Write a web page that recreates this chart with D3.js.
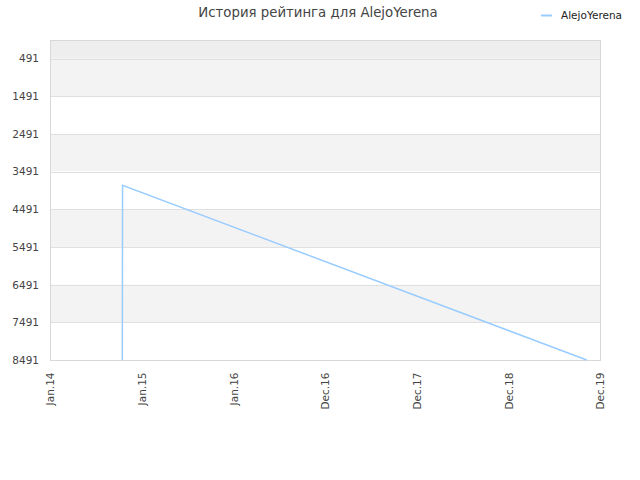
<!DOCTYPE html>
<html>
<head>
<meta charset="utf-8">
<script src="https://cdn.jsdelivr.net/npm/d3@7"></script>
<style>
  body { margin: 0; background: #fff; }
  text { font-family: "DejaVu Sans", sans-serif; }
</style>
</head>
<body>
<div id="chart"></div>
<script>
var title = "История рейтинга для AlejoYerena";
var seriesName = "AlejoYerena";

// rating history (date, rating)
var dates = ["2014-10-12", "2014-10-13", "2019-10-10"];
var ratings = [8491, 3855, 8491];

var yTicks = [491, 1491, 2491, 3491, 4491, 5491, 6491, 7491, 8491];
var xTickLabels = ["Jan.14", "Jan.15", "Jan.16", "Dec.16", "Dec.17", "Dec.18", "Dec.19"];

var parse = d3.timeParse("%Y-%m-%d");
var data = dates.map(function(d, i) { return {date: parse(d), value: ratings[i]}; });

var margin = {top: 40, right: 40, bottom: 120, left: 50},
    width = 640 - margin.left - margin.right,
    height = 480 - margin.top - margin.bottom;

var svg = d3.select("#chart")
    .append("svg")
    .attr("width", 640)
    .attr("height", 480);

svg.append("text")
    .attr("x", 318)
    .attr("y", 17)
    .attr("text-anchor", "middle")
    .attr("font-size", 13.3)
    .attr("fill", "#444")
    .text(title);

// legend
svg.append("line")
    .attr("x1", 541).attr("x2", 552)
    .attr("y1", 15.5).attr("y2", 15.5)
    .attr("stroke", "#99ccff")
    .attr("stroke-width", 2);
svg.append("text")
    .attr("x", 561)
    .attr("y", 19)
    .attr("font-size", 10.5)
    .attr("fill", "#222")
    .text(seriesName);

var g = svg.append("g")
    .attr("transform", "translate(" + margin.left + "," + margin.top + ")");

var t0 = parse("2014-01-01"), t1 = parse("2019-12-01");
var x = d3.scaleTime()
    .domain([t0, t1])
    .range([0, width]);

var y = d3.scaleLinear()
    .domain([0, 8491])
    .range([0, height]);

// background bands
var edges = [0].concat(yTicks);
for (var i = 0; i < edges.length - 1; i++) {
    g.append("rect")
        .attr("x", 0)
        .attr("width", width)
        .attr("y", y(edges[i]))
        .attr("height", y(edges[i + 1]) - y(edges[i]))
        .attr("fill", i == 0 ? "#eeeeee" : (i % 2 == 1 ? "#f3f3f3" : "#ffffff"));
}

// grid lines
g.selectAll(".grid")
    .data(yTicks)
    .enter().append("line")
    .attr("x1", 0).attr("x2", width)
    .attr("y1", function(d) { return Math.round(y(d)) + 0.5; })
    .attr("y2", function(d) { return Math.round(y(d)) + 0.5; })
    .attr("stroke", "#e0e0e0");

// frame
g.append("rect")
    .attr("x", 0.5).attr("y", 0.5)
    .attr("width", width).attr("height", height)
    .attr("fill", "none")
    .attr("stroke", "#d8d8d8");

// y axis labels
var yAxis = g.append("g")
    .call(d3.axisLeft(y).tickValues(yTicks).tickFormat(d3.format("d"))
        .tickSize(0).tickPadding(11));
yAxis.select(".domain").remove();
yAxis.selectAll("text").attr("font-size", 10.5).attr("fill", "#444")
    .attr("font-family", "DejaVu Sans, sans-serif");

// x axis
var xTickDates = xTickLabels.map(function(d, i) {
    return new Date(+t0 + (t1 - t0) * i / (xTickLabels.length - 1));
});
var xAxis = g.append("g")
    .attr("transform", "translate(0," + height + ")")
    .call(d3.axisBottom(x).tickValues(xTickDates)
        .tickFormat(function(d, i) { return xTickLabels[i]; })
        .tickSize(0));
xAxis.select(".domain").remove();
xAxis.selectAll("text")
    .attr("font-size", 10.5)
    .attr("fill", "#444")
    .attr("font-family", "DejaVu Sans, sans-serif")
    .attr("text-anchor", "end")
    .attr("y", 0)
    .attr("dy", "0.35em")
    .attr("transform", "translate(0,12.5) rotate(-90)");

// rating line
g.append("path")
    .datum(data)
    .attr("fill", "none")
    .attr("stroke", "#99ccff")
    .attr("stroke-width", 1.5)
    .attr("d", d3.line()
        .x(function(d) { return x(d.date); })
        .y(function(d) { return y(d.value); }));
</script>
</body>
</html>
